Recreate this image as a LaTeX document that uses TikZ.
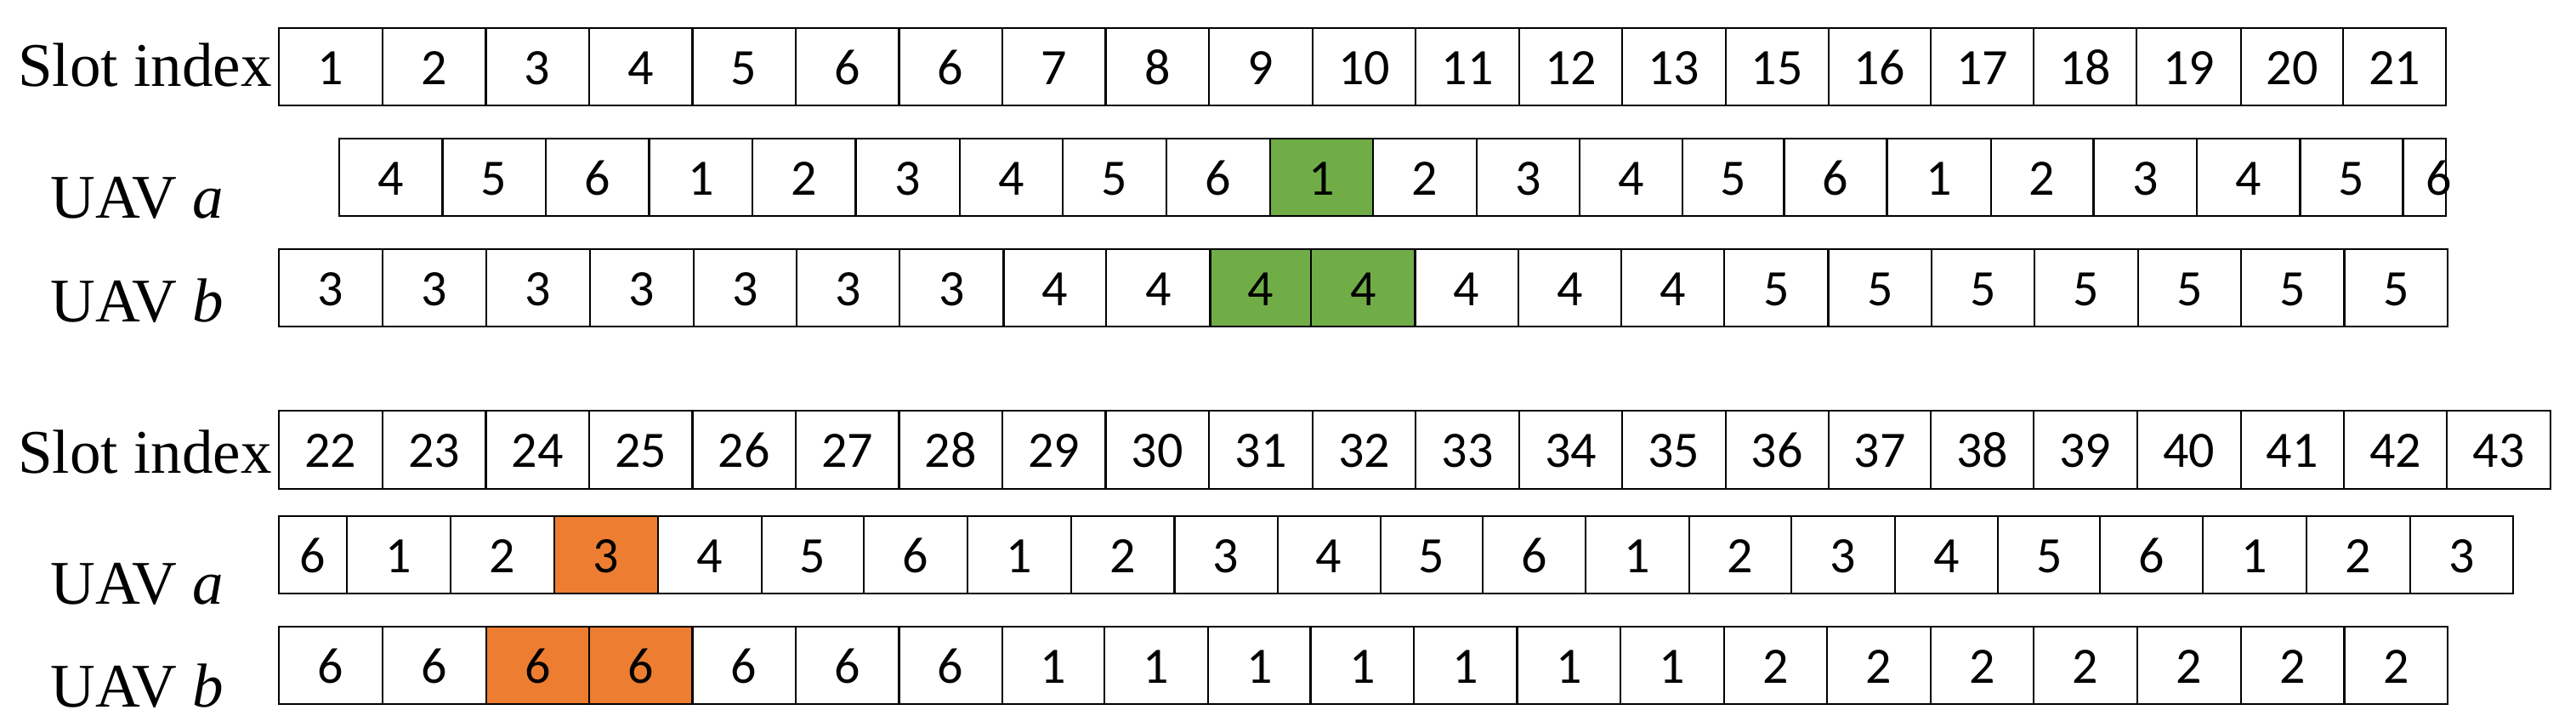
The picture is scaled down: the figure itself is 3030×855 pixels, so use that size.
\documentclass[tikz,border=0pt]{standalone}
\usepackage{fontspec}
\setmainfont{Liberation Serif}
\newfontfamily\digitfont{Carlito}
\definecolor{cellgreen}{RGB}{112,173,71}
\definecolor{cellorange}{RGB}{237,125,49}
\newcommand\slotrow[4]{%
  \foreach \xa/\xb/\t/\s [count=\i] in {#4} {
    \pgfmathsetmacro\cx{(\xa+\xb)/2}
    \pgfmathsetmacro\cy{(#2+#3)/2}
    \pgfmathsetmacro\cw{(\xb-\xa)*0.5}
    \pgfmathsetmacro\ch{(#3-#2)*0.5}
    \node[cell,fill=\s,minimum width=\cw pt,minimum height=\ch pt] (#1-\i) at (\cx,\cy) {\t};
  }}
\begin{document}
\begin{tikzpicture}[x=0.5pt,y=-0.5pt,
  celltext/.style={inner sep=0pt, outer sep=0pt, font=\digitfont\fontsize{30}{30}\selectfont, text height=21pt, text depth=0pt},
  cell/.style={celltext, draw=black, line width=1.1pt, rectangle},
  lab/.style={anchor=base west, inner sep=0pt, font=\fontsize{36.5}{36.5}\selectfont}]
\useasboundingbox (0,0) rectangle (3030,855);
% ---------- top block ----------
\slotrow{sa}{32.7}{123.7}{327.8/449.6/1/white, 449.6/571.4/2/white, 571.4/692.6/3/white, 692.6/814.4/4/white, 814.4/935.6/5/white, 935.6/1057.4/6/white, 1057.4/1178.6/6/white, 1178.6/1300.4/7/white, 1300.4/1422.2/8/white, 1422.2/1544/9/white, 1544/1665.2/10/white, 1665.2/1787/11/white, 1787/1908.2/12/white, 1908.2/2029.6/13/white, 2029.6/2151.1/15/white, 2151.1/2270.6/16/white, 2270.6/2392.2/17/white, 2392.2/2513/18/white, 2513/2635.9/19/white, 2635.9/2756.1/20/white, 2756.1/2877/21/white}
\slotrow{aa}{162.7}{253.7}{398.6/520.4/4/white, 520.4/641.6/5/white, 641.6/763.4/6/white, 763.4/885.2/1/white, 885.2/1006.4/2/white, 1006.4/1128.8/3/white, 1128.8/1250/4/white, 1250/1371.8/5/white, 1371.8/1494.3/6/white, 1494.3/1614.8/1/cellgreen, 1614.8/1736.6/2/white, 1736.6/1857.8/3/white, 1857.8/1979/4/white, 1979/2098.5/5/white, 2098.5/2219.4/6/white, 2219.4/2341.6/1/white, 2341.6/2462.5/2/white, 2462.5/2584/3/white, 2584/2705.5/4/white, 2705.5/2826.4/5/white}
\node[cell,fill=white,minimum width=25.3pt,minimum height=45.5pt] (aa-21) at (2851.7,208.2) {};
\node[celltext] (aa-21t) at (2869,208.2) {6};
\slotrow{ba}{293}{383.7}{327.8/450.3/3/white, 450.3/572/3/white, 572/693.9/3/white, 693.9/815.7/3/white, 815.7/936.9/3/white, 936.9/1058/3/white, 1058/1180.5/3/white, 1180.5/1301/4/white, 1301/1423.5/4/white, 1423.5/1542/4/cellgreen, 1542/1664.5/4/cellgreen, 1664.5/1785.7/4/white, 1785.7/1907/4/white, 1907/2028.2/4/white, 2028.2/2150.4/5/white, 2150.4/2272/5/white, 2272/2392.8/5/white, 2392.8/2515/5/white, 2515/2635.9/5/white, 2635.9/2757.4/5/white, 2757.4/2879/5/white}
\node[lab] (ls1) at (21,101.7) {Slot index};
\node[lab] (la1) at (59.5,256.7) {UAV \textit{a}};
\node[lab] (lb1) at (59.5,379) {UAV \textit{b}};
% ---------- bottom block ----------
\slotrow{sb}{482.7}{575}{327.8/449.6/22/white, 449.6/571.4/23/white, 571.4/692.6/24/white, 692.6/814.4/25/white, 814.4/935.6/26/white, 935.6/1057.4/27/white, 1057.4/1178.6/28/white, 1178.6/1300.4/29/white, 1300.4/1422.2/30/white, 1422.2/1544/31/white, 1544/1665.2/32/white, 1665.2/1787/33/white, 1787/1908.2/34/white, 1908.2/2029.6/35/white, 2029.6/2151.1/36/white, 2151.1/2271.3/37/white, 2271.3/2392.2/38/white, 2392.2/2513.7/39/white, 2513.7/2635.9/40/white, 2635.9/2756.8/41/white, 2756.8/2878.3/42/white, 2878.3/2999.8/43/white}
\slotrow{ab}{607.3}{698.3}{327.8/408.2/6/white, 408.2/530/1/white, 530/651.8/2/white, 651.8/773.6/3/cellorange, 773.6/896/4/white, 896/1016/5/white, 1016/1137.8/6/white, 1137.8/1259.6/1/white, 1259.6/1381.4/2/white, 1381.4/1502.6/3/white, 1502.6/1623.7/4/white, 1623.7/1743.6/5/white, 1743.6/1864.8/6/white, 1864.8/1986.6/1/white, 1986.6/2107/2/white, 2107/2229.3/3/white, 2229.3/2350.1/4/white, 2350.1/2470.3/5/white, 2470.3/2591.2/6/white, 2591.2/2712.7/1/white, 2712.7/2834.9/2/white, 2834.9/2955.8/3/white}
\slotrow{bb}{736.7}{828.3}{327.8/450.3/6/white, 450.3/572/6/white, 572/692.6/6/cellorange, 692.6/814.4/6/cellorange, 814.4/935.6/6/white, 935.6/1057.4/6/white, 1057.4/1178.6/6/white, 1178.6/1299/1/white, 1299/1421/1/white, 1421/1541.5/1/white, 1541.5/1663.3/1/white, 1663.3/1784.4/1/white, 1784.4/1906.2/1/white, 1906.2/2027.6/1/white, 2027.6/2149.1/2/white, 2149.1/2270.6/2/white, 2270.6/2392.2/2/white, 2392.2/2513.7/2/white, 2513.7/2635.9/2/white, 2635.9/2757.4/2/white, 2757.4/2879/2/white}
\node[lab] (ls2) at (21,556.7) {Slot index};
\node[lab] (la2) at (59.5,710) {UAV \textit{a}};
\node[lab] (lb2) at (59.5,831.7) {UAV \textit{b}};
\end{tikzpicture}
\end{document}
